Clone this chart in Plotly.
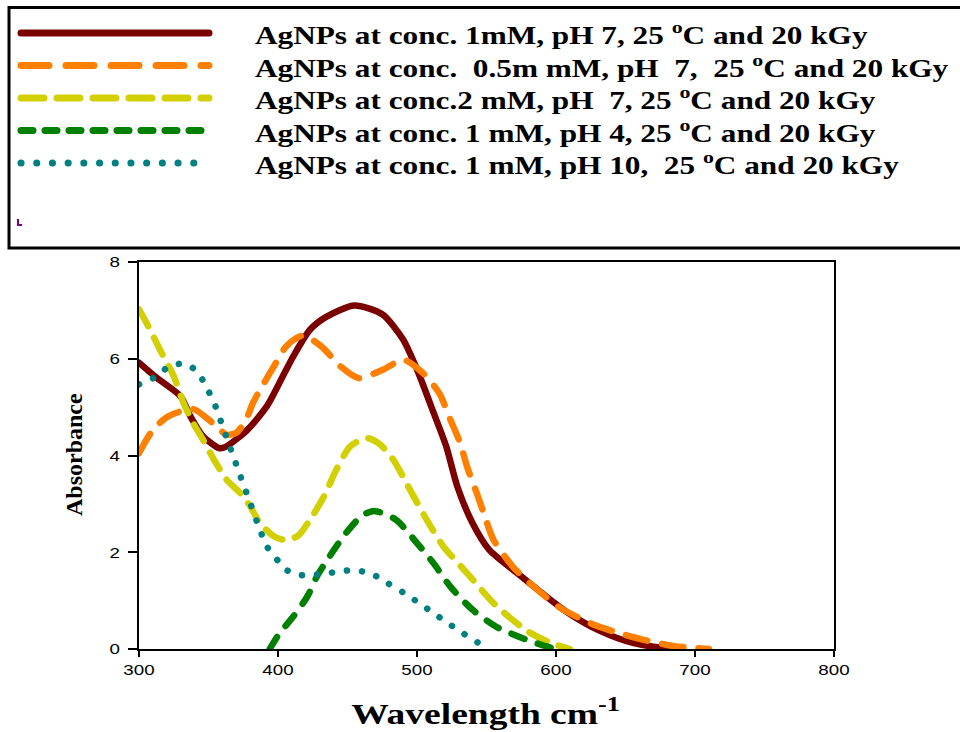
import plotly.graph_objects as go

# ---- spectra (wavelength, absorbance) ----
wl_1mM_pH7 = [300, 313, 330, 337, 346, 358, 363, 378, 392, 401, 411, 423, 435, 455, 475,
              490, 500, 512, 521, 529, 540, 552, 572, 588, 608, 632, 656, 682]
ab_1mM_pH7 = [5.92, 5.60, 5.22, 4.81, 4.40, 4.15, 4.19, 4.53, 5.02, 5.50, 6.05, 6.60, 6.87, 7.10, 6.92,
              6.40, 5.78, 4.88, 4.19, 3.36, 2.60, 2.05, 1.57, 1.20, 0.76, 0.37, 0.12, 0.0]

wl_05mM_pH7 = [300, 310, 321, 339, 353, 363, 370, 377, 382, 390, 397, 406, 418, 431, 445, 458, 476,
               490, 504, 516, 524, 531, 536, 543, 548, 555, 569, 584, 603, 625, 645, 663, 685, 710]
ab_05mM_pH7 = [4.05, 4.53, 4.81, 4.96, 4.67, 4.43, 4.47, 4.74, 5.09, 5.50, 5.84, 6.26, 6.48, 6.26, 5.84, 5.60, 5.78,
               5.98, 5.71, 5.29, 4.74, 4.26, 3.77, 3.22, 2.81, 2.26, 1.70, 1.29, 0.85, 0.53, 0.33, 0.19, 0.06, 0.0]

wl_2mM_pH7 = [300, 308, 315, 325, 332, 339, 346, 354, 363, 373, 380, 387, 397, 404, 414, 423, 433,
              442, 452, 464, 473, 483, 495, 507, 519, 536, 555, 568, 580, 595, 610]
ab_2mM_pH7 = [7.02, 6.60, 6.19, 5.64, 5.09, 4.67, 4.33, 3.91, 3.50, 3.22, 2.95, 2.60, 2.33, 2.26, 2.33, 2.67, 3.15,
              3.71, 4.19, 4.36, 4.24, 3.91, 3.29, 2.67, 2.12, 1.57, 0.95, 0.62, 0.36, 0.14, 0.0]

wl_1mM_pH4 = [394, 401, 411, 421, 428, 437, 449, 461, 470, 485, 500, 512, 524, 540, 557, 579, 590, 600]
ab_1mM_pH4 = [0.0, 0.32, 0.67, 1.08, 1.50, 1.91, 2.40, 2.77, 2.85, 2.67, 2.19, 1.77, 1.29, 0.81, 0.46, 0.19, 0.08, 0.0]

wl_1mM_pH10 = [300, 313, 321, 332, 341, 347, 355, 361, 367, 373, 379, 385, 392, 398, 405, 416, 425,
               437, 448, 458, 469, 479, 490, 501, 512, 523, 534, 544, 553]
ab_1mM_pH10 = [5.47, 5.64, 5.83, 5.90, 5.76, 5.50, 5.02, 4.53, 4.05, 3.57, 3.10, 2.62, 2.12, 1.90, 1.65, 1.53, 1.53,
               1.57, 1.62, 1.62, 1.53, 1.36, 1.17, 0.96, 0.74, 0.52, 0.31, 0.13, 0.0]

series_labels = [
    "AgNPs at conc. 1mM, pH 7, 25 <sup>o</sup>C and 20 kGy",
    "AgNPs at conc.\u00a0 0.5m mM, pH\u00a0 7,\u00a0 25 <sup>o</sup>C and 20 kGy",
    "AgNPs at conc.2 mM, pH\u00a0 7, 25 <sup>o</sup>C and 20 kGy",
    "AgNPs at conc. 1 mM, pH 4, 25 <sup>o</sup>C and 20 kGy",
    "AgNPs at conc. 1 mM, pH 10,\u00a0 25 <sup>o</sup>C and 20 kGy",
]

x_ticks = [300, 400, 500, 600, 700, 800]
y_ticks = [0, 2, 4, 6, 8]

# ---- styling ----
W, H = 960, 732
colors = ["#7b0000", "#ff8000", "#d2d000", "#008000", "#008080"]
plot_dash = ["solid", "22px,15px", "19px,13px", "14px,14px", "0.1px,15px"]
key_dash = ["solid", "28px,17px", "23px,13px", "12px,12px", "0.1px,15.6px"]

series = [
    (wl_1mM_pH7, ab_1mM_pH7),
    (wl_05mM_pH7, ab_05mM_pH7),
    (wl_2mM_pH7, ab_2mM_pH7),
    (wl_1mM_pH4, ab_1mM_pH4),
    (wl_1mM_pH10, ab_1mM_pH10),
]

fig = go.Figure()

# key box geometry (pixels)
key_x0, key_x1 = 21, 209          # sample line ends
key_row0, key_row4 = 33, 163      # first / last row centre
key_dom_w = 240
pitch = (key_row4 - key_row0) / 4

for i, (xs, ys) in enumerate(series):
    fig.add_trace(go.Scatter(
        x=xs, y=ys, mode="lines", showlegend=False, hoverinfo="skip",
        line=dict(color=colors[i], width=6.5, dash=plot_dash[i], shape="spline", smoothing=0.7),
        xaxis="x", yaxis="y"))
    fig.add_trace(go.Scatter(
        x=[0, 1], y=[i, i], mode="lines", showlegend=False, hoverinfo="skip",
        line=dict(color=colors[i], width=7, dash=key_dash[i]),
        xaxis="x2", yaxis="y2"))

annotations = []
for i, lab in enumerate(series_labels):
    annotations.append(dict(
        text=lab, xref="paper", yref="y2", x=253 / W, y=i, xanchor="left", yanchor="middle",
        align="left", showarrow=False, yshift=0,
        font=dict(family="Liberation Serif", size=25, color="black")))

annotations.append(dict(
    text="Wavelength cm<sup>-1</sup>", xref="paper", yref="paper", x=485 / W, y=1 - 711 / H,
    xanchor="center", yanchor="middle", showarrow=False,
    font=dict(family="Liberation Serif", size=30, color="black")))
annotations.append(dict(
    text="Absorbance", xref="paper", yref="paper", x=74 / W, y=1 - 455 / H, textangle=-90,
    xanchor="center", yanchor="middle", showarrow=False,
    font=dict(family="Liberation Serif", size=24, color="black")))

# make all serif text bold
for a in annotations:
    a["text"] = "<b>" + a["text"] + "</b>"

tick_font = dict(family="Liberation Sans", size=15, color="black")

# key sample axis ranges so that 0 and 1 land on key_x0 / key_x1
sx = (key_x1 - key_x0)
xr0 = -key_x0 / sx
xr1 = xr0 + key_dom_w / sx
top_px = key_row0 - pitch / 2
bot_px = key_row4 + pitch / 2

# small stray purple tick inside the key box (pixels)
mark = "M {:.5f} {:.5f} L {:.5f} {:.5f} L {:.5f} {:.5f}".format(
    18 / W, 1 - 219 / H, 18 / W, 1 - 225 / H, 22 / W, 1 - 225 / H)

fig.update_layout(
    width=W, height=H, margin=dict(l=0, r=0, t=0, b=0, pad=0, autoexpand=False),
    paper_bgcolor="white", plot_bgcolor="white",
    xaxis=dict(domain=[139 / W, 834 / W], range=[300, 800], tickvals=x_ticks,
               ticks="outside", ticklen=6, tickwidth=2, tickcolor="black",
               showline=True, linecolor="black", linewidth=2, mirror=True, automargin=False,
               showgrid=False, zeroline=False, tickfont=tick_font, ticklabelstandoff=0),
    yaxis=dict(domain=[1 - 649 / H, 1 - 262 / H], range=[0, 8], tickvals=y_ticks,
               ticks="outside", ticklen=9, tickwidth=2, tickcolor="black",
               showline=True, linecolor="black", linewidth=2, mirror=True, automargin=False,
               showgrid=False, zeroline=False, tickfont=tick_font, ticklabelstandoff=5),
    xaxis2=dict(domain=[0, key_dom_w / W], range=[xr0, xr1], visible=False, anchor="y2",
                automargin=False),
    yaxis2=dict(domain=[1 - bot_px / H, 1 - top_px / H], range=[4.5, -0.5], visible=False,
                anchor="x2", automargin=False),
    annotations=annotations,
    shapes=[
        dict(type="rect", xref="paper", yref="paper", x0=9 / W, x1=1.02,
             y0=1 - 248 / H, y1=1 - 7.5 / H, line=dict(color="black", width=3)),
        dict(type="path", xref="paper", yref="paper", path=mark,
             line=dict(color="#800080", width=2)),
    ],
)

# page tweaks: pin the plot to the window corner, round line caps, and widen
# horizontal labels (the vertical axis title is left as is)
post = """
document.documentElement.style.margin = '0';
document.body.style.margin = '0';
document.documentElement.style.overflow = 'hidden';
document.body.style.overflow = 'hidden';
var gd = document.getElementById('{plot_id}');
gd.style.position = 'fixed';
gd.style.left = '0px';
gd.style.top = '0px';
gd.querySelectorAll('path.js-line').forEach(function(p){
  p.style.strokeLinecap = 'round'; p.style.strokeLinejoin = 'round';
});
var k = 1.25;
var texts = gd.querySelectorAll('text');
for (var i = 0; i < texts.length; i++) {
  var t = texts[i];
  try {
    if (t.textContent.indexOf('Absorbance') >= 0) continue;
    var L = t.getComputedTextLength();
    if (L > 0) {
      t.setAttribute('textLength', (L * k).toFixed(2));
      t.setAttribute('lengthAdjust', 'spacingAndGlyphs');
    }
  } catch (e) {}
}
"""

fig.write_html("out.html", config={"displayModeBar": False}, post_script=post)
